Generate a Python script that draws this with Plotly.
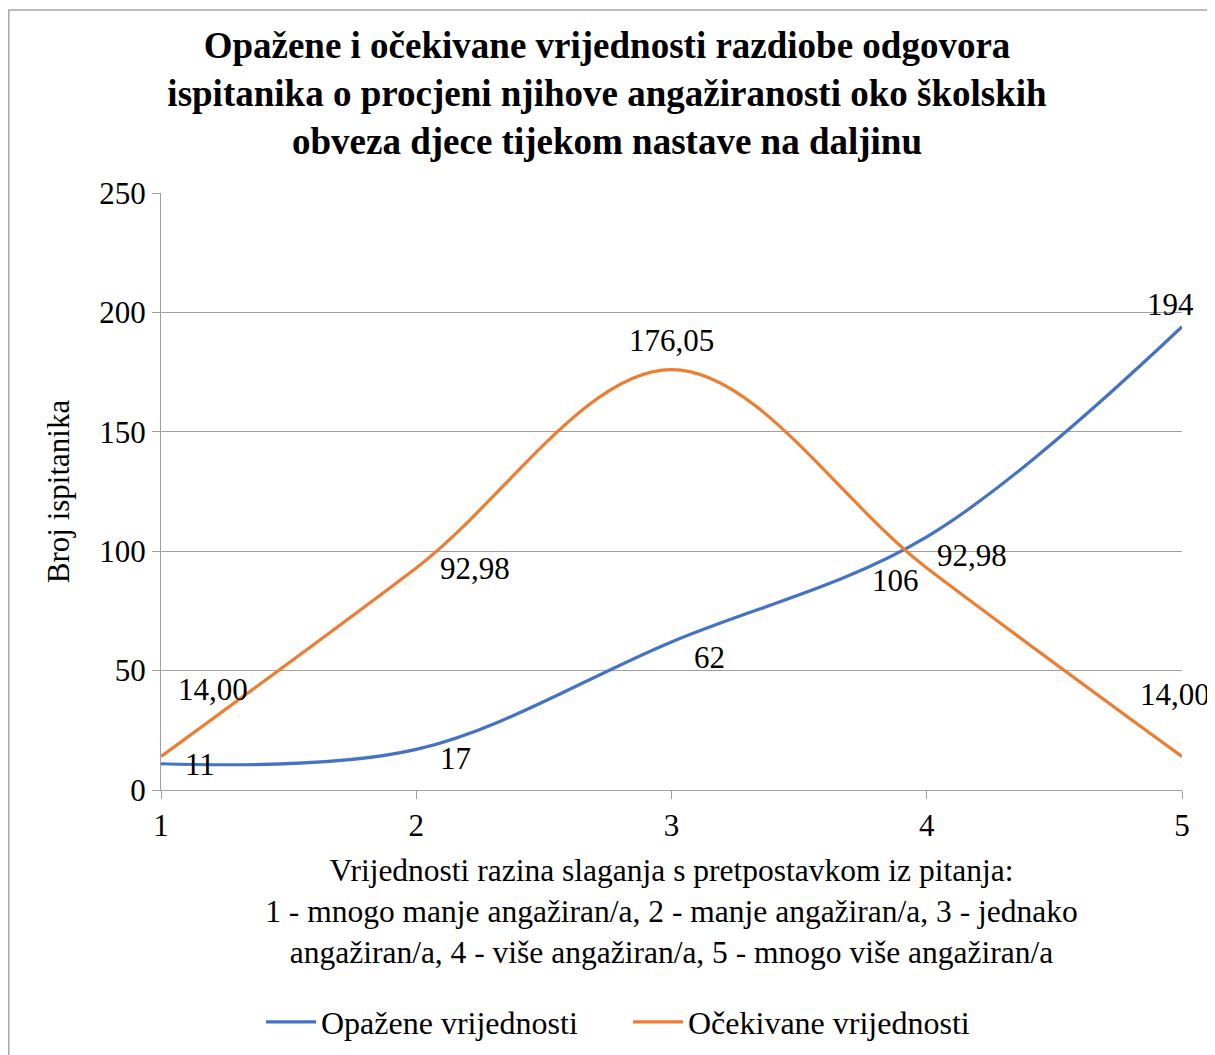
import plotly.graph_objects as go

# ---- data ----
categories = [1, 2, 3, 4, 5]
observed = [11, 17, 62, 106, 194]
expected = [14.00, 92.98, 176.05, 92.98, 14.00]
observed_labels = ["11", "17", "62", "106", "194"]
expected_labels = ["14,00", "92,98", "176,05", "92,98", "14,00"]
y_ticks = [0, 50, 100, 150, 200, 250]

title_text = ("Opažene i očekivane vrijednosti razdiobe odgovora<br>"
              "ispitanika o procjeni njihove angažiranosti oko školskih<br>"
              "obveza djece tijekom nastave na daljinu")
x_title = ("Vrijednosti razina slaganja s pretpostavkom iz pitanja:<br>"
           "1 - mnogo manje angažiran/a, 2 - manje angažiran/a, 3 - jednako<br>"
           "angažiran/a, 4 - više angažiran/a, 5 - mnogo više angažiran/a")
y_title = "Broj ispitanika"

# label pixel offsets (style)
obs_off = [(39, -1), (39, -9), (38, -16), (-31, -44), (-12, 22)]
exp_off = [(52, 67), (59, -1), (0, 29), (45, 12), (-7, 62)]

FONT = "Liberation Serif, Times New Roman, serif"
BLUE = "#4472C4"
ORANGE = "#ED7D31"
GRID = "#A0A0A0"

# page body has an 8px margin, so the figure is sized to fit the window
W, H = 1207, 1047
L, R, T, B = 153, 33, 185, 265

fig = go.Figure()
fig.add_trace(go.Scatter(x=categories, y=observed, mode="lines",
                         name="Opažene vrijednosti",
                         line=dict(color=BLUE, width=3.2, shape="spline", smoothing=1)))
fig.add_trace(go.Scatter(x=categories, y=expected, mode="lines",
                         name="Očekivane vrijednosti",
                         line=dict(color=ORANGE, width=3.2, shape="spline", smoothing=1)))

ann = []
for xv, yv, t, (dx, dy) in zip(categories, observed, observed_labels, obs_off):
    ann.append(dict(x=xv, y=yv, xref="x", yref="y", text=t, showarrow=False,
                    xshift=dx, yshift=dy, font=dict(family=FONT, size=31, color="black")))
for xv, yv, t, (dx, dy) in zip(categories, expected, expected_labels, exp_off):
    ann.append(dict(x=xv, y=yv, xref="x", yref="y", text=t, showarrow=False,
                    xshift=dx, yshift=dy, font=dict(family=FONT, size=31, color="black")))

pw = W - L - R
ph = H - T - B
border = dict(type="rect", xref="paper", yref="paper",
              x0=(0.8 - L) / pw, x1=(1212 - L) / pw,
              y0=(H - B - 1055) / ph, y1=(H - B - 2) / ph,
              line=dict(color="#A6A6A6", width=1.5), fillcolor="rgba(0,0,0,0)",
              layer="below")

fig.update_layout(
    width=W, height=H,
    margin=dict(l=L, r=R, t=T, b=B, autoexpand=False),
    paper_bgcolor="white", plot_bgcolor="white",
    font=dict(family=FONT, size=31, color="black"),
    title=dict(text="<b>" + title_text + "</b>", x=(607 - 8) / W, xref="container",
               xanchor="center", y=1 - 50 / H, yref="container", yanchor="middle",
               font=dict(family=FONT, size=37, color="black")),
    xaxis=dict(range=[1, 5], tickvals=categories, ticktext=[str(c) for c in categories],
               showgrid=False, zeroline=False, showline=True, linecolor=GRID, linewidth=1.3,
               ticks="outside", ticklen=8, tickcolor=GRID, tickwidth=1.3,
               tickfont=dict(family=FONT, size=31),
               title=dict(text=x_title, font=dict(family=FONT, size=31.5), standoff=16)),
    yaxis=dict(range=[0, 250], tickvals=y_ticks, showgrid=True, gridcolor=GRID, gridwidth=1.3,
               zeroline=False, showline=True, linecolor=GRID, linewidth=1.3,
               ticks="outside", ticklen=8, tickcolor=GRID, tickwidth=1.3,
               tickfont=dict(family=FONT, size=31),
               title=dict(text=y_title, font=dict(family=FONT, size=31), standoff=20)),
    legend=dict(orientation="h", xref="container", yref="container",
                x=(259 - 6) / W, xanchor="left", y=1 - 1014 / H, yanchor="middle",
                font=dict(family=FONT, size=32), itemwidth=50,
                entrywidth=302, entrywidthmode="pixels"),
    annotations=ann,
    shapes=[border],
)

fig.write_html("out.html")
